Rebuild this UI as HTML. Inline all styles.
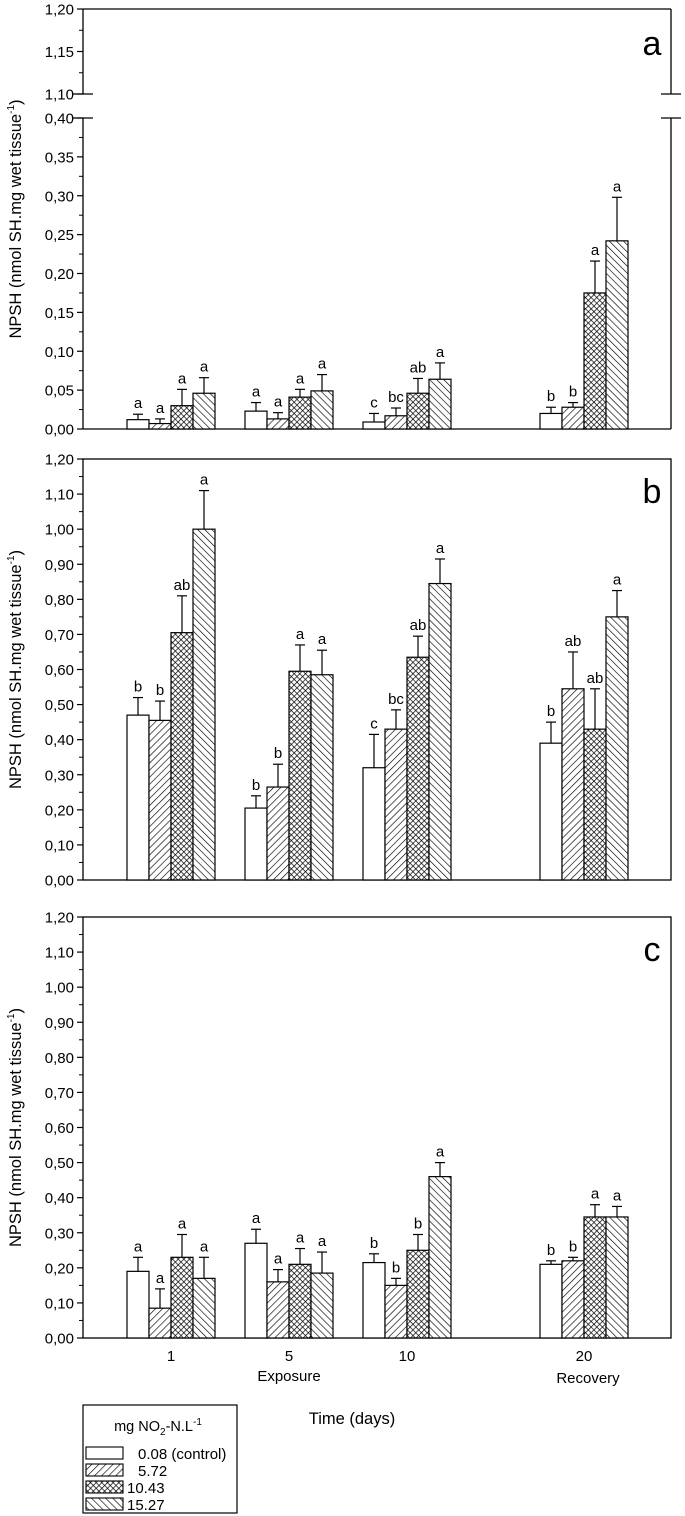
<!DOCTYPE html>
<html><head><meta charset="utf-8"><style>
html,body{margin:0;padding:0;background:#fff}
svg{display:block;font-family:"Liberation Sans",Arial,sans-serif}
</style></head><body>
<svg id="chart" width="685" height="1516" viewBox="0 0 685 1516" xmlns="http://www.w3.org/2000/svg">
<defs>
<pattern id="pFwd" patternUnits="userSpaceOnUse" width="5" height="5" patternTransform="rotate(45)"><rect width="5" height="5" fill="#fff"/><line x1="0" y1="0" x2="0" y2="5" stroke="#000" stroke-width="1.3"/></pattern>
<pattern id="pBack" patternUnits="userSpaceOnUse" width="5" height="5" patternTransform="rotate(-45)"><rect width="5" height="5" fill="#fff"/><line x1="0" y1="0" x2="0" y2="5" stroke="#000" stroke-width="1.3"/></pattern>
<pattern id="pCross" patternUnits="userSpaceOnUse" width="4" height="4" patternTransform="rotate(45)"><rect width="4" height="4" fill="#fff"/><line x1="0" y1="0" x2="0" y2="4" stroke="#000" stroke-width="1.4"/><line x1="0" y1="0" x2="4" y2="0" stroke="#000" stroke-width="1.4"/></pattern>
</defs>
<g id="root"></g>
</svg>
<script>
const categories = ["1","5","10","20"];
const seriesNames = ["0.08 (control)","5.72","10.43","15.27"];
const aMeans = [[0.012,0.007,0.030,0.046],[0.023,0.013,0.041,0.049],[0.009,0.017,0.046,0.064],[0.020,0.028,0.175,0.242]];
const aErr   = [[0.019,0.013,0.051,0.066],[0.034,0.021,0.051,0.070],[0.020,0.027,0.065,0.085],[0.028,0.034,0.216,0.298]];
const aSig   = [["a","a","a","a"],["a","a","a","a"],["c","bc","ab","a"],["b","b","a","a"]];
const bMeans = [[0.47,0.455,0.705,1.00],[0.205,0.265,0.595,0.585],[0.32,0.43,0.635,0.845],[0.39,0.545,0.43,0.75]];
const bErr   = [[0.52,0.51,0.81,1.11],[0.24,0.33,0.67,0.655],[0.415,0.485,0.695,0.915],[0.45,0.65,0.545,0.825]];
const bSig   = [["b","b","ab","a"],["b","b","a","a"],["c","bc","ab","a"],["b","ab","ab","a"]];
const cMeans = [[0.19,0.085,0.23,0.17],[0.27,0.16,0.21,0.185],[0.215,0.15,0.25,0.46],[0.21,0.22,0.345,0.345]];
const cErr   = [[0.23,0.14,0.295,0.23],[0.31,0.195,0.255,0.245],[0.24,0.17,0.295,0.50],[0.22,0.23,0.38,0.375]];
const cSig   = [["a","a","a","a"],["a","a","a","a"],["b","b","b","a"],["b","b","a","a"]];
const tickLabelsFull = ["0,00","0,10","0,20","0,30","0,40","0,50","0,60","0,70","0,80","0,90","1,00","1,10","1,20"];
const tickLabelsALow = ["0,00","0,05","0,10","0,15","0,20","0,25","0,30","0,35","0,40"];
const tickLabelsAHigh = ["1,10","1,15","1,20"];

const NS="http://www.w3.org/2000/svg";
const root=document.getElementById('root');
function el(tag,attrs,parent,text){const e=document.createElementNS(NS,tag);for(const k in attrs)e.setAttribute(k,attrs[k]);if(text!==undefined)e.textContent=text;(parent||root).appendChild(e);return e;}
const fills=["#fff","url(#pFwd)","url(#pCross)","url(#pBack)"];
const L=83,R=671,BW=22;
const groupStart=[127,245,363,540];
function xBar(g,s){return groupStart[g]+s*BW;}

function drawBars(g,means,errs,sigs,yf,name){
  for(let i=0;i<categories.length;i++){for(let s=0;s<4;s++){
    const x=xBar(i,s),y0=yf(0),y=yf(means[i][s]),ye=yf(errs[i][s]),cx=x+BW/2;
    const eb=el('line',{x1:cx,y1:y,x2:cx,y2:ye,stroke:'#000','stroke-width':1.2},g);
    
    
    el('line',{x1:cx-5,y1:ye,x2:cx+5,y2:ye,stroke:'#000','stroke-width':1.2},g);
    const r=el('rect',{x:x,y:y,width:BW,height:y0-y,fill:fills[s],stroke:'#000','stroke-width':1.2},g);
    
    
    const t=el('text',{x:cx,y:ye-6,'text-anchor':'middle','font-size':15},g,sigs[i][s]);
    
    
  }}
}
function yTitle(g,cy){
  const t=el('text',{x:0,y:0,'text-anchor':'middle','font-size':16.5,transform:`translate(21,${cy}) rotate(-90)`},g);
  
  
  t.innerHTML='NPSH (nmol SH.mg wet tissue<tspan dy="-7" font-size="10">-1</tspan><tspan dy="7">)</tspan>';
}
function ticks(g,labels,y0,step){
  labels.forEach((lb,i)=>{const y=y0-i*step;
    el('line',{x1:L-6,y1:y,x2:L,y2:y,stroke:'#000','stroke-width':1.2},g);
    const t=el('text',{x:L-9,y:y+5.5,'text-anchor':'end','font-size':15},g,lb);
    
    
    if(i<labels.length-1)el('line',{x1:L-4,y1:y-step/2,x2:L,y2:y-step/2,stroke:'#000','stroke-width':1},g);
  });
}
function fullPanel(name,top,means,errs,sigs,letter){
  const g=el('g',{});
  
  
  const bottom=top+421, yf=v=>bottom-v/1.2*421;
  el('rect',{x:L,y:top,width:R-L,height:bottom-top,fill:'none',stroke:'#000','stroke-width':1.3},g);
  ticks(g,tickLabelsFull,bottom,421/12);
  drawBars(g,means,errs,sigs,yf,name);
  const pl=el('text',{x:652,y:top+44,'text-anchor':'middle','font-size':34},g,letter);
  
  
  yTitle(g,(top+bottom)/2);
  return g;
}
(function(){
  const g=el('g',{});
  
  
  const top=9,brkHi=94,brkLo=118,bottom=429;
  const yLow=v=>bottom-v/0.4*(bottom-brkLo);
  el('line',{x1:L,y1:top,x2:R,y2:top,stroke:'#000','stroke-width':1.3},g);
  el('line',{x1:L,y1:bottom,x2:R,y2:bottom,stroke:'#000','stroke-width':1.3},g);
  [L,R].forEach(x=>{
    el('line',{x1:x,y1:top,x2:x,y2:brkHi,stroke:'#000','stroke-width':1.3},g);
    el('line',{x1:x,y1:brkLo,x2:x,y2:bottom,stroke:'#000','stroke-width':1.3},g);
    el('line',{x1:x-10,y1:brkHi,x2:x+10,y2:brkHi,stroke:'#000','stroke-width':1.2},g);
    el('line',{x1:x-10,y1:brkLo,x2:x+10,y2:brkLo,stroke:'#000','stroke-width':1.2},g);
  });
  ticks(g,tickLabelsALow,bottom,(bottom-brkLo)/8);
  ticks(g,tickLabelsAHigh,brkHi,(brkHi-top)/2);
  drawBars(g,aMeans,aErr,aSig,yLow,'panel-a');
  const pl=el('text',{x:652,y:55,'text-anchor':'middle','font-size':34},g,'a');
  
  
  yTitle(g,(top+bottom)/2);
})();
fullPanel('panel-b',459,bMeans,bErr,bSig,'b');
fullPanel('panel-c',917,cMeans,cErr,cSig,'c');
categories.forEach((c,i)=>{
  const t=el('text',{x:groupStart[i]+2*BW,y:1361,'text-anchor':'middle','font-size':15},root,c);
  
  
});
let t=el('text',{x:289,y:1381,'text-anchor':'middle','font-size':15},root,'Exposure');

t=el('text',{x:588,y:1383,'text-anchor':'middle','font-size':15},root,'Recovery');

t=el('text',{x:352,y:1424,'text-anchor':'middle','font-size':16.5},root,'Time (days)');

const lg=el('g',{});


el('rect',{x:83,y:1405,width:154,height:108,fill:'#fff',stroke:'#000','stroke-width':1.2},lg);
const lt=el('text',{x:158,y:1431,'text-anchor':'middle','font-size':14.5},lg);


lt.innerHTML='mg NO<tspan dy="4" font-size="10">2</tspan><tspan dy="-4">-N.L</tspan><tspan dy="-6" font-size="10">-1</tspan>';
seriesNames.forEach((n,s)=>{
  const y=1447+s*17;
  const r=el('rect',{x:86,y:y,width:37,height:12,fill:fills[s],stroke:'#000','stroke-width':1.1},lg);
  
  
  const tx=el('text',{x:s<2?138:127,y:y+12,'font-size':15},lg,n);
  
  
});
</script>
</body></html>
